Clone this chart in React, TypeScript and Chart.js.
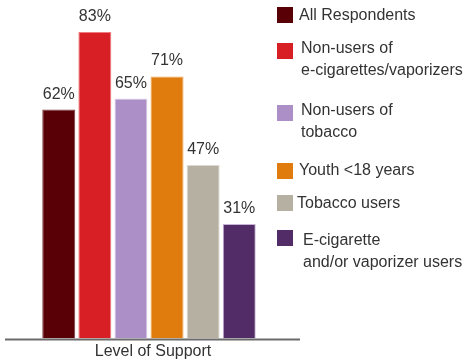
import React, { useEffect, useRef } from "react";
import { Chart, registerables } from "chart.js";

Chart.register(...registerables);

const categories = ["Level of Support"];
const seriesNames = [
  ["All Respondents"],
  ["Non-users of", "e-cigarettes/vaporizers"],
  ["Non-users of", "tobacco"],
  ["Youth <18 years"],
  ["Tobacco users"],
  ["E-cigarette", "and/or vaporizer users"],
];
const seriesValues = [62, 83, 65, 71, 47, 31];
const fillColors = ["#590007", "#d81f26", "#ab8fc6", "#e07c0e", "#b6b0a3", "#522c66"];
const borderColors = ["#7a3a3e", "#f07a7e", "#e4d8f0", "#f3a454", "#dcd8d0", "#c8b4d6"];

// legend layout (styling only)
const LEGEND_SQ_X = 277;
const LEGEND_SQ = 16;
const legendSquareTops = [7, 43, 105, 163, 195, 230];
const legendTextX = [299, 301, 301, 299, 297, 303];
const legendLineCenters = [[16], [48.5, 71], [111, 132.5], [171], [204], [241, 263]];

const TEXT_COLOR = "#333333";
const FONT_FAMILY = "'Liberation Sans', Arial, sans-serif";

export default function App() {
  const canvasRef = useRef<HTMLCanvasElement | null>(null);

  useEffect(() => {
    document.body.style.margin = "0";
    const canvas = canvasRef.current;
    if (!canvas) return;

    const axisLinePlugin = {
      id: "axisLine",
      afterDatasetsDraw(chart: any) {
        const { ctx, chartArea } = chart;
        ctx.save();
        ctx.strokeStyle = "#6b6b6b";
        ctx.lineWidth = 2;
        ctx.beginPath();
        ctx.moveTo(chartArea.left, chartArea.bottom + 1);
        ctx.lineTo(chartArea.right + 7, chartArea.bottom + 1);
        ctx.stroke();
        ctx.restore();
      },
    };

    const labelsPlugin = {
      id: "valueLabels",
      afterDatasetsDraw(chart: any) {
        const ctx = chart.ctx;
        ctx.save();
        ctx.font = `16px ${FONT_FAMILY}`;
        ctx.fillStyle = TEXT_COLOR;
        ctx.textAlign = "center";
        ctx.textBaseline = "alphabetic";
        chart.data.datasets.forEach((ds: any, i: number) => {
          const meta = chart.getDatasetMeta(i);
          meta.data.forEach((bar: any, j: number) => {
            const v = ds.data[j];
            ctx.fillText(`${v}%`, bar.x, bar.y - 11);
          });
        });
        ctx.restore();
      },
    };

    const legendPlugin = {
      id: "customLegend",
      afterDraw(chart: any) {
        const ctx = chart.ctx;
        ctx.save();
        ctx.font = `16px ${FONT_FAMILY}`;
        ctx.textAlign = "left";
        ctx.textBaseline = "middle";
        chart.data.datasets.forEach((ds: any, i: number) => {
          ctx.fillStyle = ds.backgroundColor;
          ctx.fillRect(LEGEND_SQ_X, legendSquareTops[i], LEGEND_SQ, LEGEND_SQ);
          ctx.fillStyle = TEXT_COLOR;
          seriesNames[i].forEach((line, k) => {
            ctx.fillText(line, legendTextX[i], legendLineCenters[i][k]);
          });
        });
        ctx.restore();
      },
    };

    const chart = new Chart(canvas, {
      type: "bar",
      data: {
        labels: categories,
        datasets: seriesValues.map((v, i) => ({
          label: seriesNames[i].join(" "),
          data: [v],
          backgroundColor: fillColors[i],
          borderColor: borderColors[i],
          borderWidth: 1,
          categoryPercentage: 0.752,
          barPercentage: 0.914,
        })),
      },
      options: {
        responsive: false,
        animation: false,
        devicePixelRatio: 1,
        layout: { padding: { left: 5, right: 172, top: 0, bottom: 0 } },
        plugins: {
          legend: { display: false },
          tooltip: { enabled: false },
        },
        scales: {
          x: {
            grid: { display: false, drawTicks: false },
            border: { display: false },
            ticks: {
              color: TEXT_COLOR,
              padding: 4,
              labelOffset: 4,
              font: { family: FONT_FAMILY, size: 16, lineHeight: 1.1 },
            },
          },
          y: {
            display: false,
            min: 0,
            max: 91.7,
          },
        },
      },
      plugins: [axisLinePlugin, labelsPlugin, legendPlugin],
    });

    return () => chart.destroy();
  }, []);

  return (
    <div style={{ position: "absolute", left: 0, top: 0, width: 465, height: 364 }}>
      <canvas ref={canvasRef} width={465} height={364} style={{ width: 465, height: 364, display: "block" }} />
    </div>
  );
}
